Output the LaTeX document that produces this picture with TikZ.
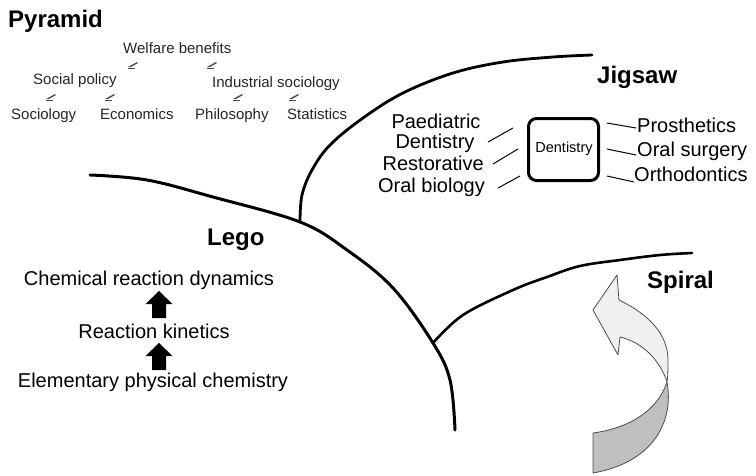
\documentclass[tikz,border=0pt]{standalone}
\usepackage{fontspec}
\setmainfont{Liberation Sans}
\begin{document}
\begin{tikzpicture}[x=1pt,y=-1pt,
  curve/.style={line width=3pt, line cap=round, line join=round},
  title/.style={font=\fontsize{24}{26}\selectfont\bfseries, anchor=base west, inner sep=0},
  small/.style={font=\fontsize{15}{17}\selectfont, anchor=base west, inner sep=0, text=black!85},
  big/.style={font=\fontsize{20}{22}\selectfont, inner sep=0},
  conn/.style={line width=1pt},
  blockarrow/.style={fill=black},
  pyrsym/.pic={\fill[black!70] (0,2) -- (9,-3) -- (10,-2) -- (3,2) -- cycle;
               \draw[black!70, line width=0.7pt] (0,3.2) -- (7,3.2);}
]
\useasboundingbox (0,0) rectangle (756,475);

% ---------- curves ----------
\draw[curve] plot[smooth, tension=0.6] coordinates
  {(90,175) (147,180) (213,197) (300,222) (347,250) (393,288) (433,343) (450,380) (455,430)};
\draw[curve, line width=2.8pt] plot[smooth, tension=0.6] coordinates
  {(300,222) (302,195) (312,170) (330,145) (363,118) (403,93) (453,73) (503,62) (553,57) (592,55)};
\draw[curve, line width=2.6pt] plot[smooth, tension=0.6] coordinates
  {(433,343) (463,315) (513,290) (547,277) (580,266) (620,260) (660,255) (692,253)};

% ---------- Pyramid ----------
\node[title] (pyr) at (8,27) {Pyramid};
\node[small] (wb) at (123,53) {Welfare benefits};
\node[small] (sp) at (33,84) {Social policy};
\node[small] (is) at (212,87) {Industrial sociology};
\node[small] (soc) at (11,119) {Sociology};
\node[small] (eco) at (100,119) {Economics};
\node[small] (phi) at (195,119) {Philosophy};
\node[small] (sta) at (287,119) {Statistics};
\pic at (128,65) {pyrsym};
\pic at (207,65) {pyrsym};
\pic at (46,97) {pyrsym};
\pic at (105,97) {pyrsym};
\pic at (233,97) {pyrsym};
\pic at (289,97) {pyrsym};

% ---------- Jigsaw ----------
\node[title] (jig) at (597,83) {Jigsaw};
\node[big, anchor=base] (pd1) at (436,128) {Paediatric};
\node[big, anchor=base] (pd2) at (435,148) {Dentistry};
\node[big, anchor=base east] (res) at (484,170) {Restorative};
\node[big, anchor=base east] (ob) at (485,192) {Oral biology};
\node[draw, line width=3pt, rounded corners=8pt, minimum width=70pt, minimum height=62pt,
      inner sep=0] (box) at (563.5,149.5) {};
\node[font=\fontsize{14.5}{16}\selectfont, anchor=base, inner sep=0] (dent) at (564,152) {Dentistry};
\node[big, anchor=base west] (pro) at (637,132) {Prosthetics};
\node[big, anchor=base west] (os) at (637,156) {Oral surgery};
\node[big, anchor=base west] (ort) at (634,181) {Orthodontics};

\coordinate (l1a) at (488,142); \coordinate (l1b) at (513,128);
\coordinate (l2a) at (493,164); \coordinate (l2b) at (518,149);
\coordinate (l3a) at (498,188); \coordinate (l3b) at (520,176);
\coordinate (r1a) at (607,123); \coordinate (r1b) at (636,128);
\coordinate (r2a) at (607,149); \coordinate (r2b) at (636,155);
\coordinate (r3a) at (607,176); \coordinate (r3b) at (634,182);
\draw[conn] (l1a) -- (l1b);
\draw[conn] (l2a) -- (l2b);
\draw[conn] (l3a) -- (l3b);
\draw[conn] (r1a) -- (r1b);
\draw[conn] (r2a) -- (r2b);
\draw[conn] (r3a) -- (r3b);

% ---------- Lego ----------
\node[title] (lego) at (207,245) {Lego};
\node[big, anchor=base] (crd) at (149,285) {Chemical reaction dynamics};
\node[big, anchor=base] (rk) at (154,338) {Reaction kinetics};
\node[big, anchor=base] (epc) at (153,387) {Elementary physical chemistry};
\fill[blockarrow, shift={(159,291)}] (0,0) -- (13.5,13) -- (7,13) -- (7,27) -- (-7,27) -- (-7,13) -- (-13.5,13) -- cycle;
\fill[blockarrow, shift={(159,343)}] (0,0) -- (13.5,13) -- (7,13) -- (7,27) -- (-7,27) -- (-7,13) -- (-13.5,13) -- cycle;

% ---------- Spiral ----------
\node[title] (spi) at (647,288) {Spiral};
\draw[black!70, line width=0.8pt, fill=black!6, line join=round]
  (619,300) .. controls (650,315) and (668,335) .. (668,360)
  .. controls (668,368) and (668,376) .. (667,382)
  .. controls (660,360) and (642,342) .. (620,337)
  -- (618,355) -- (593,310) -- (617,275) -- cycle;
\draw[black!70, line width=0.8pt, fill=black!25, line join=round]
  (593,433) .. controls (630,428) and (658,410) .. (667,382)
  .. controls (674,420) and (655,462) .. (593,473) -- cycle;
\end{tikzpicture}
\end{document}
